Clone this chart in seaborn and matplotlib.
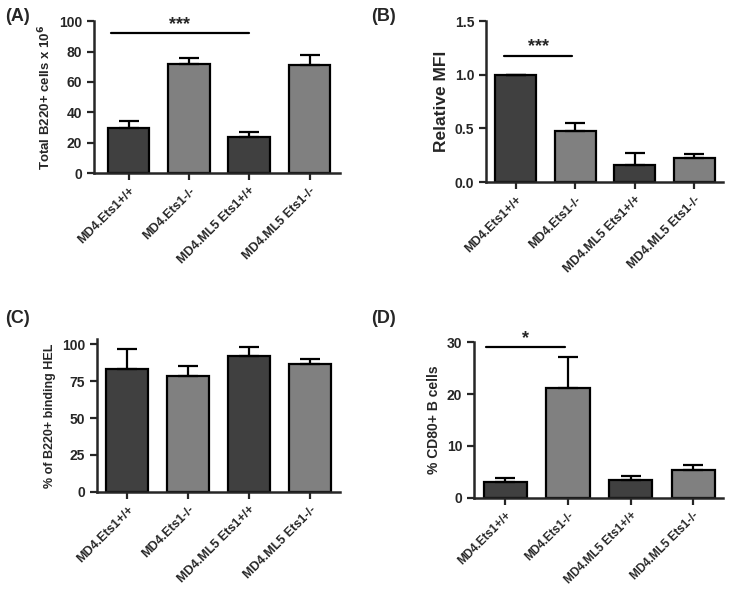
import numpy as np
import pandas as pd
import matplotlib
matplotlib.use("Agg")
import matplotlib.pyplot as plt
import seaborn as sns

groups = ["MD4.Ets1+/+", "MD4.Ets1-/-", "MD4.ML5 Ets1+/+", "MD4.ML5 Ets1-/-"]
bar_colors = ["#404040", "#808080", "#404040", "#808080"]

# panel values (mean, upper error)
total_b220 = [30.0, 72.0, 23.5, 71.0]
total_b220_err = [4.5, 3.5, 3.5, 6.5]
rel_mfi = [1.0, 0.48, 0.155, 0.224]
rel_mfi_err = [0.0, 0.067, 0.115, 0.04]
pct_hel = [83.5, 78.3, 92.2, 86.7]
pct_hel_err = [13.3, 7.2, 6.0, 3.2]
pct_cd80 = [2.95, 21.1, 3.5, 5.3]
pct_cd80_err = [0.85, 6.0, 0.65, 1.1]

sns.set_theme(style="ticks")
plt.rcParams["font.family"] = ["Liberation Sans", "DejaVu Sans"]
plt.rcParams["font.weight"] = "bold"
plt.rcParams["axes.labelweight"] = "bold"

fig = plt.figure(figsize=(7.32, 5.89), dpi=100)

panels = [
    ("(A)", [0.128, 0.706, 0.336, 0.258], total_b220, total_b220_err,
     "Total B220+ cells x 10$^\\mathbf{6}$", (0, 100), [0, 20, 40, 60, 80, 100], (-0.58, 3.5), 9.5, 9),
    ("(B)", [0.664, 0.691, 0.324, 0.273], rel_mfi, rel_mfi_err,
     "Relative MFI", (0, 1.5), [0.0, 0.5, 1.0, 1.5], (-0.5, 3.49), 12.5, 9),
    ("(C)", [0.1325, 0.165, 0.3315, 0.259], pct_hel, pct_hel_err,
     "% of B220+ binding HEL", (0, 103.5), [0, 25, 50, 75, 100], (-0.5, 3.49), 9, 9),
    ("(D)", [0.6475, 0.155, 0.3405, 0.264], pct_cd80, pct_cd80_err,
     "% CD80+ B cells", (0, 30), [0, 10, 20, 30], (-0.5, 3.48), 10, 8.5),
]

axes = []
for letter, rect, vals, errs, ylabel, ylim, yticks, xlim, lsize, xsize in panels:
    ax = fig.add_axes(rect)
    df = pd.DataFrame({"group": groups, "value": vals})
    sns.barplot(data=df, x="group", y="value", hue="group", palette=bar_colors,
                legend=False, width=0.69, edgecolor="black", linewidth=1.6,
                errorbar=None, ax=ax)
    ax.errorbar(range(len(groups)), vals, yerr=[np.zeros(len(errs)), errs],
                fmt="none", ecolor="black", elinewidth=1.6, capsize=7, capthick=1.6,
                zorder=1)
    ax.set_ylim(*ylim)
    ax.set_yticks(yticks)
    ax.set_xlim(*xlim)
    ax.set_xlabel("")
    ax.set_ylabel(ylabel, fontsize=lsize, fontweight="bold")
    ax.tick_params(axis="both", direction="out", width=1.6, length=5, labelsize=10)
    ax.set_xticks(range(len(groups)))
    ax.set_xticklabels(groups, rotation=45, ha="right", rotation_mode="anchor",
                       fontsize=xsize, fontweight="bold")
    for lab in ax.get_yticklabels():
        lab.set_fontweight("bold")
    for s in ["left", "bottom"]:
        ax.spines[s].set_linewidth(1.8)
    sns.despine(ax=ax)
    axes.append(ax)

# panel letters
fig.text(0.007, 0.965, "(A)", fontsize=13, fontweight="bold")
fig.text(0.507, 0.965, "(B)", fontsize=13, fontweight="bold")
fig.text(0.007, 0.452, "(C)", fontsize=13, fontweight="bold")
fig.text(0.507, 0.452, "(D)", fontsize=13, fontweight="bold")

# significance bars
def sig(ax, x0, x1, y, text):
    ax.plot([x0, x1], [y, y], color="black", lw=1.6, clip_on=False)
    ax.text((x0 + x1) / 2, y, text, ha="center", va="bottom", fontsize=13,
            fontweight="bold")

sig(axes[0], -0.3, 2.0, 92.5, "***")
sig(axes[1], -0.2, 0.95, 1.18, "***")
sig(axes[3], -0.3, 0.95, 29.0, "*")

fig.savefig("out.png", dpi=100)
